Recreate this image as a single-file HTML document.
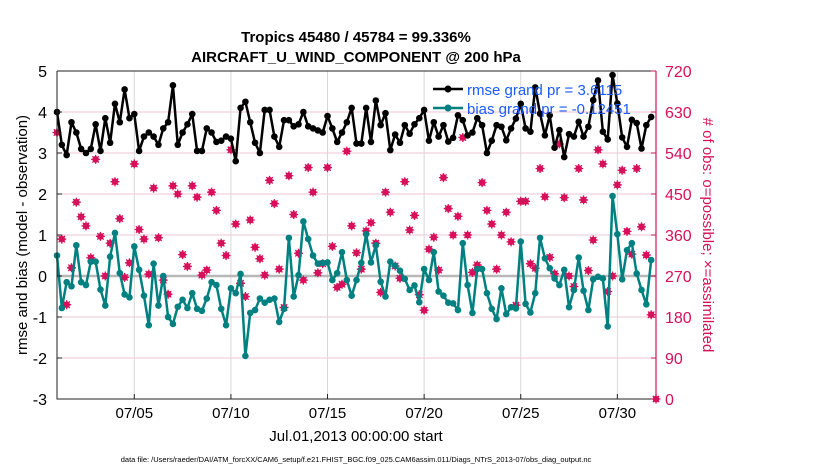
<!DOCTYPE html>
<html><head><meta charset="utf-8"><style>
body{margin:0;background:#fff}
svg{display:block}
text{font-family:"Liberation Sans",sans-serif}
</style></head><body>
<svg id="chart" width="830" height="470" viewBox="0 0 830 470" xmlns="http://www.w3.org/2000/svg">
<rect width="830" height="470" fill="#fff"/>
<text x="356" y="42" font-size="15" font-weight="bold" text-anchor="middle">Tropics 45480 / 45784 = 99.336%</text>
<text x="356" y="62" font-size="15" font-weight="bold" text-anchor="middle">AIRCRAFT_U_WIND_COMPONENT @ 200 hPa</text>
<g id="grid"></g>
<g id="marks"></g>
<g id="axes"></g>
<text transform="translate(27,235) rotate(-90)" font-size="15" text-anchor="middle">rmse and bias (model - observation)</text>
<text transform="translate(703,235) rotate(90)" font-size="15" text-anchor="middle" fill="#d6105a">#  of obs: o=possible; ×=assimilated</text>
<text x="356" y="441" font-size="15" text-anchor="middle">Jul.01,2013 00:00:00 start</text>
<text x="356" y="462" font-size="7.5" text-anchor="middle">data file: /Users/raeder/DAI/ATM_forcXX/CAM6_setup/f.e21.FHIST_BGC.f09_025.CAM6assim.011/Diags_NTrS_2013-07/obs_diag_output.nc</text>
<g>
<line x1="433" y1="89" x2="463" y2="89" stroke="#000" stroke-width="2.5"/>
<circle cx="448" cy="89" r="3.5" fill="#000"/>
<text x="467" y="95" font-size="15" fill="#1a5cff">rmse grand pr = 3.6115</text>
<line x1="433" y1="108" x2="463" y2="108" stroke="#008080" stroke-width="2.5"/>
<circle cx="448" cy="108" r="3.5" fill="#008080"/>
<text x="467" y="114" font-size="15" fill="#1a5cff">bias grand pr = -0.12451</text>
</g>
</svg>
<script>
const rmse=[4.0,3.2,2.95,3.75,3.5,3.1,3.0,3.1,3.7,3.05,3.85,3.25,4.2,3.75,4.55,3.85,3.95,3.05,3.4,3.5,3.4,3.2,3.6,3.75,4.65,3.2,3.5,3.7,3.95,3.05,
3.05,3.6,3.5,3.27,3.3,3.4,3.35,2.8,4.1,4.25,3.75,3.25,3.0,4.05,4.05,3.4,3.15,3.8,3.8,3.65,3.7,4.0,3.65,3.6,3.55,3.5,3.9,3.6,3.27,3.5,
3.75,4.1,3.23,3.23,4.1,3.27,4.28,3.68,3.97,3.07,3.45,3.25,3.68,3.47,3.7,3.85,4.05,3.3,3.75,3.4,3.68,3.28,3.37,3.92,3.8,3.43,3.5,3.85,3.68,3.0,
3.3,3.68,3.64,3.31,3.6,3.84,4.2,3.6,3.52,4.6,3.96,3.43,3.92,3.13,3.56,2.9,3.46,3.4,3.76,3.4,3.64,4.29,4.77,3.52,3.33,4.9,4.21,3.38,3.15,3.81,3.73,3.11,3.68,3.88];
const bias=[0.5,-0.78,-0.15,-0.25,0.75,-0.15,-0.22,0.35,0.35,-0.33,-0.72,0.47,1.05,0.07,-0.45,-0.52,0.72,0.15,-0.48,-1.2,0.3,-0.72,0.0,-1.0,-1.17,-0.75,-0.58,-0.78,-0.42,-0.8,
-0.85,-0.55,-0.15,-0.22,-0.8,-1.2,-0.3,-0.42,0.05,-1.95,-0.9,-0.83,-0.55,-0.65,-0.58,-0.55,-1.12,-0.8,0.93,-0.5,0.02,1.33,0.9,0.5,0.3,0.32,0.33,-0.1,0.07,0.58,
-0.1,-0.48,-0.1,0.32,1.02,0.33,0.75,-0.14,-0.5,0.35,0.25,0.13,-0.07,-0.34,-0.23,-0.64,0.17,-0.1,0.58,-0.38,-0.48,-0.65,-0.67,-0.83,0.8,-0.22,-0.9,0.17,0.17,-0.42,
-0.8,-1.05,-0.3,-0.93,-0.76,-0.79,0.84,-0.68,-0.89,-0.42,0.93,0.43,0.19,-0.06,-0.22,0.15,-0.76,-0.34,0.45,-0.36,-0.83,-0.08,-0.02,-0.06,-1.23,1.95,1.02,-0.08,0.63,0.8,0.06,-0.34,-0.69,0.39];
const obsCount=[585,351,207,288,432,400,380,310,526,357,270,342,477,396,267,299,516,372,351,274,463,354,261,230,468,450,317,291,468,443,
272,283,454,414,342,315,547,384,254,225,393,333,308,272,480,429,285,201,490,405,320,261,508,454,277,297,508,335,245,252,
544,380,321,285,369,387,342,234,454,410,292,265,477,371,403,229,195,329,355,283,486,418,360,401,574,360,278,294,475,414,
384,285,360,410,345,206,434,434,297,287,506,444,311,275,560,442,270,247,506,437,282,349,547,516,236,270,470,502,368,318,506,378,316,185,0];
const dayTicks=[4,9,14,19,24,29];
const dayLabels=['07/05','07/10','07/15','07/20','07/25','07/30'];
const leftTicks=[-3,-2,-1,0,1,2,3,4,5];
const rightTicks=[0,90,180,270,360,450,540,630,720];
const stepDays=0.25;

const NS='http://www.w3.org/2000/svg';
const X0=57,X1=656,Y0=399,Y1=71;
const xs=d=>X0+(d/31)*(X1-X0);
const yl=v=>Y0-(v+3)/8*(Y0-Y1);
const yr=c=>Y0-c/720*(Y0-Y1);
function mk(tag,attrs,parent){const e=document.createElementNS(NS,tag);for(const k in attrs)e.setAttribute(k,attrs[k]);parent.appendChild(e);return e;}
const grid=document.getElementById('grid'),marks=document.getElementById('marks'),axes=document.getElementById('axes');
const PINK='#d6105a';
leftTicks.forEach(v=>{if(v===-3||v===5)return;const l=mk('line',{x1:X0,x2:X1,y1:yl(v),y2:yl(v),stroke:'#f2c6d6','stroke-width':1},grid);

});
dayTicks.forEach(d=>{const l=mk('line',{x1:xs(d),x2:xs(d),y1:Y1,y2:Y0,stroke:'#d8d8d8','stroke-width':1},grid);

});
const z=mk('line',{x1:X0,x2:X1,y1:yl(0),y2:yl(0),stroke:'#b8b8b8','stroke-width':2.5},grid);


obsCount.forEach((c,i)=>{const x=xs(i*stepDays),y=yr(c);
const g=mk('g',{},marks);


mk('circle',{cx:x,cy:y,r:3.3,fill:PINK},g);
mk('path',{d:`M${x-4.5} ${y}H${x+4.5}M${x} ${y-4.5}V${y+4.5}M${x-3.2} ${y-3.2}L${x+3.2} ${y+3.2}M${x-3.2} ${y+3.2}L${x+3.2} ${y-3.2}`,stroke:PINK,'stroke-width':1.3},g);});
function series(arr,color,name){
const p=mk('polyline',{points:arr.map((v,i)=>xs(i*stepDays)+','+yl(v)).join(' '),fill:'none',stroke:color,'stroke-width':2.5,'stroke-linejoin':'round'},marks);


arr.forEach((v,i)=>{const c=mk('circle',{cx:xs(i*stepDays),cy:yl(v),r:3.3,fill:color},marks);

});}
series(bias,'#008080','bias');
series(rmse,'#000000','rmse');
const fr=mk('path',{d:`M${X0} ${Y1}H${X1}M${X0} ${Y1}V${Y0}H${X1}`,stroke:'#222',fill:'none','stroke-width':1},axes);


const ra=mk('line',{x1:X1,x2:X1,y1:Y1,y2:Y0,stroke:PINK,'stroke-width':1.2},axes);


leftTicks.forEach(v=>{mk('line',{x1:X0,x2:X0+5,y1:yl(v),y2:yl(v),stroke:'#222'},axes);
const t=mk('text',{x:X0-10,y:yl(v)+6,'font-size':16,'text-anchor':'end'},axes);t.textContent=v;

});
rightTicks.forEach(c=>{mk('line',{x1:X1-5,x2:X1,y1:yr(c),y2:yr(c),stroke:PINK},axes);
const t=mk('text',{x:X1+9,y:yr(c)+6,'font-size':16,fill:PINK},axes);t.textContent=c;

});
dayTicks.forEach((d,i)=>{mk('line',{x1:xs(d),x2:xs(d),y1:Y0,y2:Y0-5,stroke:'#222'},axes);
const t=mk('text',{x:xs(d),y:418,'font-size':15,'text-anchor':'middle'},axes);t.textContent=dayLabels[i];

});
</script>
</body></html>
